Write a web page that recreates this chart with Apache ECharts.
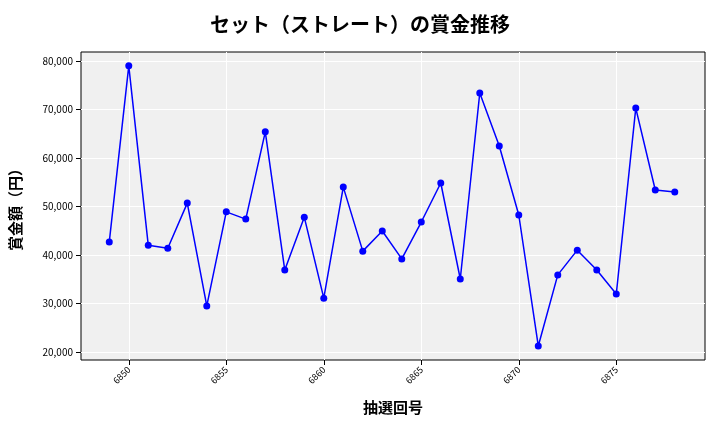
<!DOCTYPE html><html><head><meta charset="utf-8">
<script src="https://cdn.jsdelivr.net/npm/echarts@6/dist/echarts.min.js"></script>
<style>body{margin:0}#c{width:720px;height:432px}</style></head><body><div id="c"></div><script>
const draws=[6849,6850,6851,6852,6853,6854,6855,6856,6857,6858,6859,6860,6861,6862,6863,6864,6865,6866,6867,6868,6869,6870,6871,6872,6873,6874,6875,6876,6877,6878];
const prizes=[42700,79000,42000,41400,50700,29500,48900,47400,65400,36900,47800,31100,54000,40800,44950,39200,46800,54850,35050,73400,62470,48250,21240,35900,41000,36900,31960,70300,53400,53000];
const xTicks=[6850,6855,6860,6865,6870,6875];
const yTicks=[20000,30000,40000,50000,60000,70000,80000];
const f='"Noto Sans CJK JP","Noto Sans",sans-serif';
const c=echarts.init(document.getElementById('c'));
c.setOption({
 title:{text:'セット（ストレート）の賞金推移',left:'center',top:9,textStyle:{fontFamily:f,fontSize:20,fontWeight:'bold',color:'#000'}},
 grid:{left:81,right:15,top:52,bottom:72,backgroundColor:'#f0f0f0',show:true,borderColor:'#000',borderWidth:1},
 xAxis:{type:'value',min:6847.55,max:6879.55,name:'抽選回号',nameLocation:'middle',nameGap:40,
  nameTextStyle:{fontFamily:f,fontSize:15,fontWeight:'bold',color:'#000'},
  axisLine:{show:false},
  axisTick:{show:true,customValues:xTicks,lineStyle:{color:'#000'}},
  axisLabel:{customValues:xTicks,rotate:45,fontSize:9,color:'#000',fontFamily:f,formatter:v=>String(v)},
  splitLine:{show:true,lineStyle:{color:'#fff'}}},
 yAxis:{type:'value',min:18350,max:81860,name:'賞金額（円）',nameLocation:'middle',nameGap:58,
  nameTextStyle:{fontFamily:f,fontSize:15,fontWeight:'bold',color:'#000'},
  axisLine:{show:false},
  axisTick:{show:true,customValues:yTicks,lineStyle:{color:'#000'}},
  axisLabel:{customValues:yTicks,fontSize:10,color:'#000',fontFamily:f,formatter:v=>v.toLocaleString('en-US')},
  splitLine:{show:true,lineStyle:{color:'#fff'}}},
 series:[{type:'line',data:draws.map((d,i)=>[d,prizes[i]]),color:'#0000ff',symbol:'circle',symbolSize:7,
  lineStyle:{width:1.5,color:'#0000ff'},itemStyle:{color:'#0000ff'}}]
});
</script></body></html>
